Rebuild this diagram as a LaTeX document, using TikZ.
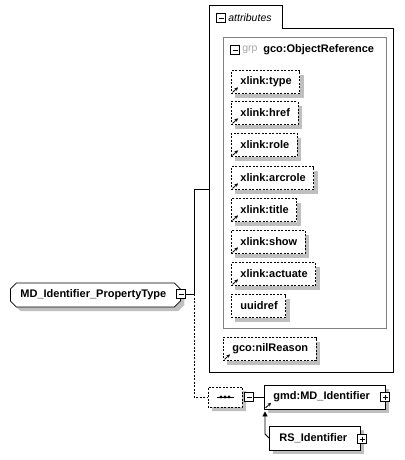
\documentclass[tikz,border=0pt]{standalone}
\usepackage{fontspec}
\setmainfont{Liberation Sans}
\usetikzlibrary{shapes.misc, arrows.meta, shadows}

\begin{document}
\begin{tikzpicture}[x=1pt, y=-1pt, line width=.8pt,
  font=\fontsize{11}{13}\selectfont\bfseries,
  shd/.style={drop shadow={shadow xshift=4pt, shadow yshift=-4pt, fill=black!25, opacity=1}},
  attr/.style={draw, dash pattern=on 2pt off 1.5pt, fill=white, shd, anchor=west,
    minimum height=23pt, inner xsep=8pt, execute at begin node={\hspace*{1pt}}},
  elem/.style={draw, fill=white, shd, anchor=west, minimum height=24pt, inner xsep=9pt},
  tgl/.style={draw, fill=white, minimum size=9pt, inner sep=0pt},
  minus/.style={tgl, path picture={\draw[line width=.8pt]
    ([xshift=2pt]path picture bounding box.west) -- ([xshift=-2pt]path picture bounding box.east);}},
  plus/.style={tgl, path picture={\draw[line width=.8pt]
    ([xshift=2pt]path picture bounding box.west) -- ([xshift=-2pt]path picture bounding box.east)
    ([yshift=-2pt]path picture bounding box.north) -- ([yshift=2pt]path picture bounding box.south);}},
  refarr/.style={-{Stealth[length=3.5pt, width=3.5pt]}, line width=.8pt}]
\useasboundingbox (0,0) rectangle (404,460);

% attributes container
\draw (209,372) -- (209,5) -- (282,5) -- (282,28) -- (393,28) -- (393,372) -- cycle;
\node[minus] (attmin) at (221,18) {};
\node[anchor=west, inner sep=0pt, font=\fontsize{10.5}{12}\selectfont\itshape] (attlbl) at (228,18) {attributes};
\coordinate (attin) at (209,189);

% attribute group
\draw[black!50] (223,37) rectangle (386,328);
\node[minus] (grpmin) at (235,50) {};
\node[anchor=west, inner sep=0pt, text=black!35, font=\fontsize{10.5}{12}\selectfont] (grplbl) at (242,50) {grp};
\node[anchor=west, inner sep=0pt] (grpname) at (263,50) {gco:ObjectReference};

\foreach \nm/\txt/\y in {type/xlink:type/82, href/xlink:href/113, role/xlink:role/145,
    arcrole/xlink:arcrole/178, title/xlink:title/210, show/xlink:show/242,
    actuate/xlink:actuate/274, uuidref/uuidref/306}
  \node[attr] (\nm) at (231,\y) {\txt};
\node[attr] (nil) at (223,349) {gco:nilReason};

\foreach \nm in {type, href, role, arcrole, title, show, actuate, nil}
  \draw[refarr] ([shift={(1.5pt,1.5pt)}]\nm.south west) -- ++(5.5pt,5pt);

% main type
\node[elem, chamfered rectangle, chamfered rectangle xsep=3pt, chamfered rectangle ysep=3pt,
  minimum width=170pt, text width=150pt, inner xsep=6pt, align=left] (pt) at (10,295)
  {MD\_Identifier\_PropertyType};
\node[minus] (ptmin) at (181,294) {};
\coordinate (jn) at (194,294);
\draw (ptmin) -- (jn) |- (attin);

% sequence
\node[draw, dash pattern=on 2pt off 1.5pt, fill=white, shd, chamfered rectangle,
  chamfered rectangle xsep=5pt, chamfered rectangle ysep=5pt, inner sep=0pt,
  minimum width=34pt, minimum height=20pt] (seq) at (225,397) {};
\draw ([xshift=-8pt]seq.center) -- ([xshift=9pt]seq.center);
\foreach \dx in {-4,0,4}
  \fill ([xshift=\dx pt]seq.center) circle (1.7pt);
\node[minus] (seqmin) at (249,397) {};
\draw[dash pattern=on 2pt off 1.5pt] (jn) |- (seq.west);

% elements
\node[elem, minimum width=121pt, inner xsep=0pt] (gmd) at (264,397) {};
\node[anchor=west, inner sep=0pt] (gmdlbl) at (273,397) {gmd:MD\_Identifier};
\node[plus] (gmdplus) at (385,397) {};
\draw[refarr] ([shift={(1.5pt,1.5pt)}]gmd.south west) -- ++(5.5pt,5pt);
\draw (seqmin) -- (gmd.west);

\node[elem, minimum width=91pt, inner xsep=0pt] (rs) at (269,438) {};
\node[anchor=west, inner sep=0pt] (rslbl) at (279,438) {RS\_Identifier};
\node[plus] (rsplus) at (362,439) {};
\draw[-{Triangle[length=5pt, width=5pt]}, shorten >=2pt]
  (rs.west) -- ++(-4,-4) coordinate (bend) -- (bend |- gmd.south);
\end{tikzpicture}
\end{document}
